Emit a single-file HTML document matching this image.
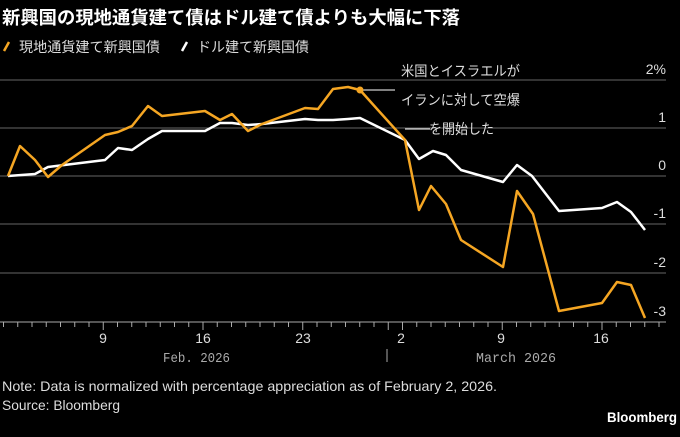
<!DOCTYPE html>
<html><head><meta charset="utf-8"><style>
body{margin:0;background:#000;width:680px;height:432px;overflow:hidden;font-family:"Liberation Sans","Noto Sans CJK JP",sans-serif;color:#fff}
</style></head><body>
<svg width="680" height="432" xmlns="http://www.w3.org/2000/svg" font-family="Liberation Sans, Noto Sans CJK JP, sans-serif">
<rect width="680" height="432" fill="#000"/>
<text x="2" y="24" font-size="18" font-weight="bold" fill="#fff" textLength="458" lengthAdjust="spacingAndGlyphs">新興国の現地通貨建て債はドル建て債よりも大幅に下落</text>
<line x1="4" y1="51" x2="9" y2="42" stroke="#f5a623" stroke-width="2.5"/>
<text x="19" y="52" font-size="14" fill="#ddd" textLength="141" lengthAdjust="spacingAndGlyphs">現地通貨建て新興国債</text>
<line x1="182" y1="51" x2="187" y2="42" stroke="#fff" stroke-width="2.5"/>
<text x="197" y="52" font-size="14" fill="#ddd" textLength="112" lengthAdjust="spacingAndGlyphs">ドル建て新興国債</text>
<g stroke="#666" stroke-width="1">
<line x1="0" y1="80" x2="666" y2="80"/><line x1="0" y1="128" x2="666" y2="128"/>
<line x1="0" y1="176" x2="666" y2="176"/><line x1="0" y1="224" x2="666" y2="224"/>
<line x1="0" y1="273" x2="666" y2="273"/>
</g>
<line x1="0" y1="322" x2="666" y2="322" stroke="#aaa"/>
<g font-size="14" fill="#ddd" text-anchor="end">
<text x="666" y="74">2%</text><text x="666" y="122">1</text><text x="666" y="170">0</text>
<text x="666" y="218">-1</text><text x="666" y="267">-2</text><text x="666" y="316">-3</text>
</g>
<path stroke="#aaa" stroke-width="1" fill="none" d="M3.5 322v5M17.75 322v5M32 322v5M46.25 322v5M60.5 322v5M74.75 322v5M89 322v5M103.25 322v8M117.5 322v5M131.75 322v5M146 322v5M160.25 322v5M174.5 322v5M188.75 322v5M203 322v8M217.25 322v5M231.5 322v5M245.75 322v5M260 322v5M274.25 322v5M288.5 322v5M302.75 322v8M317 322v5M331.25 322v5M345.5 322v5M359.75 322v5M374 322v5M388.25 322v8M402.5 322v8M416.75 322v5M431 322v5M445.25 322v5M459.5 322v5M473.75 322v5M488 322v5M502.25 322v8M516.5 322v5M530.75 322v5M545 322v5M559.25 322v5M573.5 322v5M587.75 322v5M602 322v8M616.25 322v5M630.5 322v5M644.75 322v5M659 322v5"/>
<g font-size="14" fill="#ddd" text-anchor="middle">
<text x="103" y="343">9</text><text x="203" y="343">16</text><text x="303" y="343">23</text>
<text x="401" y="343">2</text><text x="501" y="343">9</text><text x="601" y="343">16</text>
</g>
<g font-size="14" fill="#aaa" font-family="Liberation Mono, monospace">
<text x="163" y="362" textLength="67" lengthAdjust="spacingAndGlyphs">Feb. 2026</text>
<text x="476" y="362" textLength="80" lengthAdjust="spacingAndGlyphs">March 2026</text>
</g>
<line x1="387" y1="349" x2="387" y2="362" stroke="#aaa"/>
<line x1="360" y1="90" x2="395" y2="90" stroke="#fff" stroke-width="1"/>
<g font-size="14" fill="#ddd">
<text x="401" y="76" textLength="119" lengthAdjust="spacingAndGlyphs">米国とイスラエルが</text>
<text x="401" y="105" textLength="119" lengthAdjust="spacingAndGlyphs">イランに対して空爆</text>
<text x="429" y="134" textLength="65" lengthAdjust="spacingAndGlyphs">を開始した</text>
</g>
<line x1="405" y1="129" x2="430" y2="129" stroke="#fff" stroke-width="1"/>
<polyline fill="none" stroke="#fff" stroke-width="2.5" stroke-linejoin="round" points="8,176 35,174 48,167 105,160 118,148 132,150 148,139 162,131 205,131 220,123 232,123 248,125 262,124 305,119 318,120 333,120 348,119 360,118 405,140 419,159 433,151 446,155 461,170 503,182 517,165 532,176 559,211 602,208 617,202 631,212 645,230"/>
<polyline fill="none" stroke="#f5a623" stroke-width="2.5" stroke-linejoin="round" points="8,176 20,146 35,160 48,177 62,165 105,135 118,132 132,126 148,106 162,116 205,111 220,120 232,114 248,131 262,124 305,108 318,109 333,89 348,87 360,90 405,140 419,210 431,186 446,204 461,240 503,267 517,191 533,214 559,311 602,303 617,282 631,285 645,318"/>
<circle cx="360" cy="90" r="3.5" fill="#f5a623"/>
<text x="2" y="391" font-size="14" fill="#ddd" textLength="495" lengthAdjust="spacingAndGlyphs">Note: Data is normalized with percentage appreciation as of February 2, 2026.</text>
<text x="2" y="410" font-size="14" fill="#ddd" textLength="118" lengthAdjust="spacingAndGlyphs">Source: Bloomberg</text>
<text x="677" y="422" font-size="14" font-weight="bold" fill="#fff" text-anchor="end" textLength="70" lengthAdjust="spacingAndGlyphs">Bloomberg</text>
</svg>
</body></html>
